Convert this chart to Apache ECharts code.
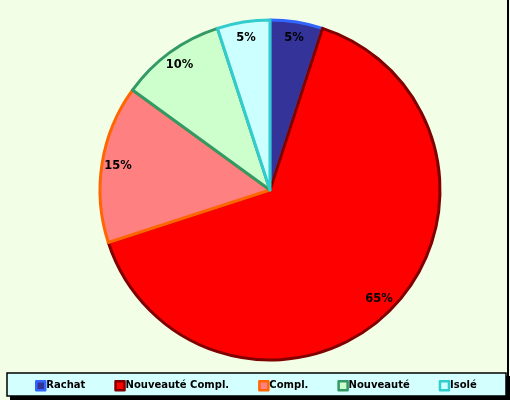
<!DOCTYPE html>
<html>
<head>
<meta charset="utf-8">
<script src="https://cdn.jsdelivr.net/npm/echarts@6/dist/echarts.min.js"></script>
<style>
html,body{margin:0;padding:0;background:#F2FFE6;}
#c{width:510px;height:400px;}
</style>
</head>
<body>
<div id="c"></div>
<script>
const categories = ["Rachat", "Nouveauté Compl.", "Compl.", "Nouveauté", "Isolé"];
const values = [5, 65, 15, 10, 5];
const fillColors = ["#333399", "#FF0000", "#FF8080", "#CCFFCC", "#CCFFFF"];
const borderColors = ["#3366FF", "#800000", "#FF6600", "#339966", "#33CCCC"];

const FONT = "DejaVu Sans";
const chart = echarts.init(document.getElementById('c'), null, {renderer: 'canvas'});

const pieData = categories.map((n, i) => ({
  name: n,
  value: values[i],
  itemStyle: {color: fillColors[i], borderColor: borderColors[i], borderWidth: 3}
}));
const labelData = categories.map((n, i) => ({name: n, value: values[i]}));

chart.setOption({
  backgroundColor: '#F2FFE6',
  animation: false,
  graphic: [
    {type: 'rect', shape: {x: 507, y: 0, width: 2, height: 376}, style: {fill: '#000'}, z: 0},
    {type: 'rect', shape: {x: 10, y: 376, width: 500, height: 24}, style: {fill: '#000'}, z: 0},
    {type: 'rect', shape: {x: 7, y: 373, width: 499, height: 23}, style: {fill: '#D4FFFF', stroke: '#000', lineWidth: 1.5}, z: 1}
  ],
  legend: {
    data: categories,
    top: 380,
    left: 35,
    right: 0,
    padding: 0,
    icon: 'rect',
    itemWidth: 9,
    itemHeight: 9,
    itemGap: 29,
    itemStyle: {borderWidth: 2.5},
    textStyle: {fontFamily: FONT, fontWeight: 'bold', fontSize: 10, color: '#000', padding: [0, 0, 0, -4]},
    z: 5
  },
  series: [
    {
      type: 'pie',
      center: [270, 190],
      radius: [0, 170],
      startAngle: 90,
      clockwise: true,
      silent: true,
      label: {show: false},
      labelLine: {show: false},
      data: pieData
    },
    {
      type: 'pie',
      center: [270, 190],
      radius: [0, 302],
      startAngle: 90,
      clockwise: true,
      silent: true,
      legendHoverLink: false,
      itemStyle: {color: 'rgba(0,0,0,0)', borderWidth: 0},
      label: {
        show: true,
        position: 'inside',
        formatter: p => p.value + '%',
        fontFamily: FONT,
        fontWeight: 'bold',
        fontSize: 11.5,
        color: '#000'
      },
      labelLine: {show: false},
      data: labelData
    }
  ]
});
</script>
</body>
</html>
